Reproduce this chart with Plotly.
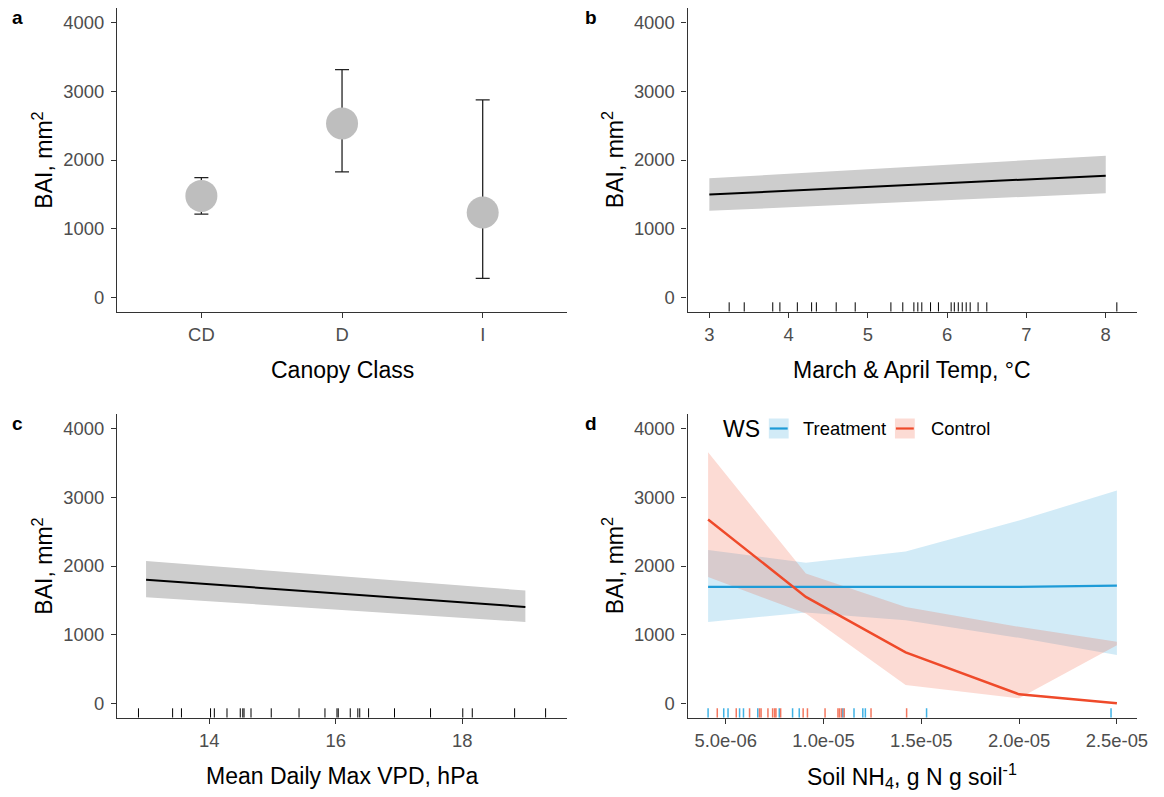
import plotly.graph_objects as go

W, H = 1164, 797

# ---------------- data ----------------
# panel a: canopy class
canopy_classes = ["CD", "D", "I"]
canopy_bai = [1477, 2533, 1235]
canopy_lo = [1211, 1826, 276]
canopy_hi = [1743, 3317, 2877]

# panel b: March & April temperature
temp_x = [3.0, 5.5, 8.0]
temp_fit = [1496, 1634, 1772]
temp_lo = [1259, 1385, 1516]
temp_hi = [1734, 1900, 2063]
temp_rug = [3.25, 3.44, 3.80, 3.89, 4.11, 4.29, 4.35, 4.60, 4.84, 5.29, 5.44,
            5.58, 5.63, 5.68, 5.79, 5.89, 6.05, 6.09, 6.14, 6.19, 6.24, 6.29,
            6.39, 6.50, 8.14]

# panel c: mean daily max VPD
vpd_x = [13.0, 16.0, 19.0]
vpd_fit = [1801, 1602, 1404]
vpd_lo = [1545, 1366, 1186]
vpd_hi = [2073, 1858, 1642]
vpd_rug = [12.88, 13.42, 13.56, 14.02, 14.08, 14.28, 14.49, 14.53, 14.55, 14.66,
           14.98, 15.42, 15.83, 16.02, 16.04, 16.23, 16.35, 16.38, 16.52, 16.93,
           17.50, 18.01, 18.16, 18.83, 19.32]

# panel d: soil NH4 by watershed
nh4_x = [4.1e-6, 9.1e-6, 1.42e-5, 2.0e-5, 2.5e-5]
trt_fit = [1695, 1695, 1695, 1695, 1714]
trt_lo = [1186, 1322, 1211, 954, 702]
trt_hi = [2232, 2048, 2213, 2663, 3099]
ctl_fit = [2678, 1550, 741, 131, 0]
ctl_lo = [1840, 1307, 266, 73, 847]
ctl_hi = [3656, 1889, 1404, 1114, 896]
trt_rug = [4.10e-6, 4.90e-6, 5.12e-6, 5.71e-6, 5.91e-6, 6.64e-6, 7.74e-6, 8.42e-6,
           8.76e-6, 10.99e-6, 11.56e-6, 12.01e-6, 12.14e-6, 15.27e-6, 24.70e-6]
ctl_rug = [4.57e-6, 5.54e-6, 6.22e-6, 6.73e-6, 6.81e-6, 7.16e-6, 7.40e-6, 7.50e-6,
           7.57e-6, 7.81e-6, 8.96e-6, 9.18e-6, 10.08e-6, 10.74e-6, 10.82e-6,
           10.92e-6, 11.06e-6, 12.43e-6, 14.25e-6]

y_ticks = [0, 1000, 2000, 3000, 4000]
temp_ticks = [3, 4, 5, 6, 7, 8]
vpd_ticks = [14, 16, 18]
nh4_ticks = [5e-6, 1e-5, 1.5e-5, 2e-5, 2.5e-5]
nh4_ticktext = ["5.0e-06", "1.0e-05", "1.5e-05", "2.0e-05", "2.5e-05"]

# ---------------- styling ----------------
FONT = "Liberation Sans, Arial, sans-serif"
Y_RANGE = [-210, 4210]
GREY_BAND = "rgb(205,205,205)"
BLUE = "rgb(30,155,215)"
RED = "rgb(239,74,42)"
BLUE_FILL = "rgba(30,155,215,0.2)"
RED_FILL = "rgba(239,74,42,0.2)"
AXC = "#333333"
TICKC = "#4D4D4D"


def px(x):
    return x / W


def py(y):
    return 1 - y / H


# plot-area pixel boxes
XA = [118, 572]
XB = [693.5, 1147.3]
YTOP = [8.3, 311.7]
YBOT = [414.3, 717.7]

panel_h = YTOP[1] - YTOP[0]
rug_top = Y_RANGE[0] + 9.4 * (Y_RANGE[1] - Y_RANGE[0]) / panel_h


def rug_xy(vals):
    xs, ys = [], []
    for v in vals:
        xs += [v, v, None]
        ys += [Y_RANGE[0], rug_top, None]
    return xs, ys


def band(x, lo, hi):
    return list(x) + list(x)[::-1], list(hi) + list(lo)[::-1]


fig = go.Figure()

# ---- panel a ----
fig.add_trace(go.Scatter(
    x=canopy_classes, y=canopy_bai, mode="markers", xaxis="x", yaxis="y",
    marker=dict(color="rgba(0,0,0,0)", size=1),
    error_y=dict(type="data", symmetric=False,
                 array=[h - m for h, m in zip(canopy_hi, canopy_bai)],
                 arrayminus=[m - l for m, l in zip(canopy_bai, canopy_lo)],
                 color="#222222", thickness=1.3, width=7),
    showlegend=False, hoverinfo="skip"))
fig.add_trace(go.Scatter(
    x=canopy_classes, y=canopy_bai, mode="markers", xaxis="x", yaxis="y",
    marker=dict(color="#BEBEBE", size=32, line=dict(width=0)),
    showlegend=False))

# ---- panel b ----
bx, by = band(temp_x, temp_lo, temp_hi)
fig.add_trace(go.Scatter(x=bx, y=by, fill="toself", fillcolor=GREY_BAND,
                         line=dict(width=0), mode="lines", xaxis="x2", yaxis="y2",
                         showlegend=False, hoverinfo="skip"))
fig.add_trace(go.Scatter(x=temp_x, y=temp_fit, mode="lines", xaxis="x2", yaxis="y2",
                         line=dict(color="black", width=2), showlegend=False))
rx, ry = rug_xy(temp_rug)
fig.add_trace(go.Scatter(x=rx, y=ry, mode="lines", xaxis="x2", yaxis="y2",
                         line=dict(color="black", width=1), showlegend=False,
                         hoverinfo="skip"))

# ---- panel c ----
bx, by = band(vpd_x, vpd_lo, vpd_hi)
fig.add_trace(go.Scatter(x=bx, y=by, fill="toself", fillcolor=GREY_BAND,
                         line=dict(width=0), mode="lines", xaxis="x3", yaxis="y3",
                         showlegend=False, hoverinfo="skip"))
fig.add_trace(go.Scatter(x=vpd_x, y=vpd_fit, mode="lines", xaxis="x3", yaxis="y3",
                         line=dict(color="black", width=2), showlegend=False))
rx, ry = rug_xy(vpd_rug)
fig.add_trace(go.Scatter(x=rx, y=ry, mode="lines", xaxis="x3", yaxis="y3",
                         line=dict(color="black", width=1), showlegend=False,
                         hoverinfo="skip"))

# ---- panel d ----
bx, by = band(nh4_x, trt_lo, trt_hi)
fig.add_trace(go.Scatter(x=bx, y=by, fill="toself", fillcolor=BLUE_FILL,
                         line=dict(width=0), mode="lines", xaxis="x4", yaxis="y4",
                         showlegend=False, hoverinfo="skip"))
bx, by = band(nh4_x, ctl_lo, ctl_hi)
fig.add_trace(go.Scatter(x=bx, y=by, fill="toself", fillcolor=RED_FILL,
                         line=dict(width=0), mode="lines", xaxis="x4", yaxis="y4",
                         showlegend=False, hoverinfo="skip"))
fig.add_trace(go.Scatter(x=nh4_x, y=trt_fit, mode="lines", xaxis="x4", yaxis="y4",
                         line=dict(color=BLUE, width=2.2), name="Treatment",
                         showlegend=False))
fig.add_trace(go.Scatter(x=nh4_x, y=ctl_fit, mode="lines", xaxis="x4", yaxis="y4",
                         line=dict(color=RED, width=2.4), name="Control",
                         showlegend=False))
rx, ry = rug_xy(trt_rug)
fig.add_trace(go.Scatter(x=rx, y=ry, mode="lines", xaxis="x4", yaxis="y4",
                         line=dict(color="rgba(30,165,225,0.85)", width=1.5),
                         showlegend=False, hoverinfo="skip"))
rx, ry = rug_xy(ctl_rug)
fig.add_trace(go.Scatter(x=rx, y=ry, mode="lines", xaxis="x4", yaxis="y4",
                         line=dict(color="rgba(239,74,42,0.75)", width=1.5),
                         showlegend=False, hoverinfo="skip"))

# ---------------- axes ----------------
common = dict(showline=True, linecolor=AXC, linewidth=1.1, ticks="outside",
              ticklen=5, tickwidth=1.1, tickcolor=AXC, showgrid=False,
              zeroline=False, mirror=False,
              tickfont=dict(family=FONT, size=18.4, color=TICKC))

xcommon = dict(common, ticklabelstandoff=1)
ycommon = dict(common, range=Y_RANGE, tickvals=y_ticks,
               ticktext=[str(v) for v in y_ticks], ticklabelstandoff=3)

fig.update_layout(
    width=W, height=H, margin=dict(l=0, r=0, t=0, b=0),
    paper_bgcolor="white", plot_bgcolor="white",
    font=dict(family=FONT, color="black"),
    xaxis=dict(xcommon, domain=[px(XA[0]), px(XA[1])], type="category",
               range=[-0.6, 2.6], anchor="y"),
    yaxis=dict(ycommon, domain=[py(YTOP[1]), py(YTOP[0])], anchor="x"),
    xaxis2=dict(xcommon, domain=[px(XB[0]), px(XB[1])], range=[2.725, 8.40],
                tickvals=temp_ticks, anchor="y2"),
    yaxis2=dict(ycommon, domain=[py(YTOP[1]), py(YTOP[0])], anchor="x2"),
    xaxis3=dict(xcommon, domain=[px(XA[0]), px(XA[1])], range=[12.54, 19.66],
                tickvals=vpd_ticks, anchor="y3"),
    yaxis3=dict(ycommon, domain=[py(YBOT[1]), py(YBOT[0])], anchor="x3"),
    xaxis4=dict(xcommon, domain=[px(XB[0]), px(XB[1])], range=[3.05e-6, 2.605e-5],
                tickvals=nh4_ticks, ticktext=nh4_ticktext, anchor="y4"),
    yaxis4=dict(ycommon, domain=[py(YBOT[1]), py(YBOT[0])], anchor="x4"),
)

# ---------------- titles & labels ----------------
ann = []
TITLE = dict(family=FONT, size=23, color="black")
ytitle = "BAI, mm<sup>2</sup>"
for xl, (y0, y1) in [(XA[0], YTOP), (XB[0], YTOP), (XA[0], YBOT), (XB[0], YBOT)]:
    ann.append(dict(text=ytitle, x=px(xl - 75), y=py((y0 + y1) / 2), xref="paper",
                    yref="paper", textangle=-90, showarrow=False, font=TITLE,
                    xanchor="center", yanchor="middle"))
xtitles = [("Canopy Class", XA, YTOP), ("March &amp; April Temp, °C", XB, YTOP),
           ("Mean Daily Max VPD, hPa", XA, YBOT),
           ("Soil NH<sub>4</sub>, g N g soil<sup>-1</sup>", XB, YBOT)]
for t, xr, yr in xtitles:
    ann.append(dict(text=t, x=px((xr[0] + xr[1]) / 2), y=py(yr[1] + 58.5),
                    xref="paper", yref="paper", showarrow=False, font=TITLE,
                    xanchor="center", yanchor="middle"))
for lab, xx, yy in [("a", 18, 18), ("b", 596, 17), ("c", 18, 424), ("d", 596, 423)]:
    ann.append(dict(text=f"<b>{lab}</b>", x=px(xx), y=py(yy), xref="paper",
                    yref="paper", showarrow=False,
                    font=dict(family=FONT, size=19, color="black"),
                    xanchor="center", yanchor="middle"))

# legend for panel d (drawn as a ggplot-style inset key)
LEG_Y = 428.5
ann.append(dict(text="WS", x=px(727), y=py(LEG_Y), xref="paper", yref="paper",
                showarrow=False, font=TITLE, xanchor="left", yanchor="middle"))
ann.append(dict(text="Treatment", x=px(808), y=py(LEG_Y), xref="paper", yref="paper",
                showarrow=False, font=dict(family=FONT, size=18.4, color="black"),
                xanchor="left", yanchor="middle"))
ann.append(dict(text="Control", x=px(937.5), y=py(LEG_Y), xref="paper", yref="paper",
                showarrow=False, font=dict(family=FONT, size=18.4, color="black"),
                xanchor="left", yanchor="middle"))
shapes = []
for x0, fillc, linec in [(775.5, BLUE_FILL, BLUE), (902.7, RED_FILL, RED)]:
    shapes.append(dict(type="rect", xref="paper", yref="paper", x0=px(x0),
                       x1=px(x0 + 20), y0=py(LEG_Y + 10), y1=py(LEG_Y - 10),
                       fillcolor=fillc, line=dict(width=0), layer="below"))
    shapes.append(dict(type="line", xref="paper", yref="paper", x0=px(x0 + 1),
                       x1=px(x0 + 19), y0=py(LEG_Y), y1=py(LEG_Y),
                       line=dict(color=linec, width=2.2)))

fig.update_layout(annotations=ann, shapes=shapes)
fig.write_html("out.html")
